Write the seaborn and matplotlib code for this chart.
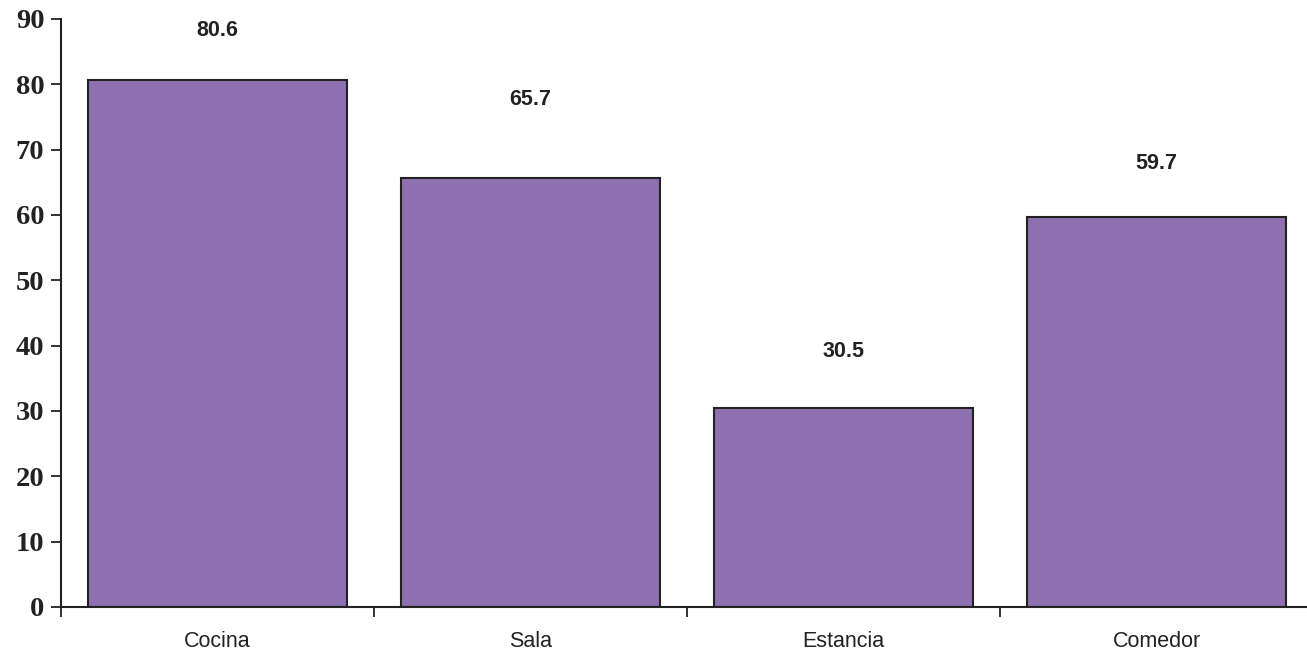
import seaborn as sns
import matplotlib.pyplot as plt
import pandas as pd

categories = ["Cocina", "Sala", "Estancia", "Comedor"]
values = [80.6, 65.7, 30.5, 59.7]
yticks = [0, 10, 20, 30, 40, 50, 60, 70, 80, 90]
# label height above bar top (data units), as placed in the original
label_offsets = [7.6, 12.0, 8.6, 8.2]

sns.set_style("white")
df = pd.DataFrame({"lugar": categories, "pct": values})

fig = plt.figure(figsize=(13.07, 6.5), dpi=100)
ax = fig.add_axes([61 / 1307, 43 / 650, 1252 / 1307, 588 / 650])

sns.barplot(data=df, x="lugar", y="pct", color="#8C70B0", saturation=1,
            edgecolor="#222222", linewidth=1.5, width=0.83, ax=ax)

for i, (v, off) in enumerate(zip(values, label_offsets)):
    ax.text(i, v + off, f"{v:.1f}", ha="center", va="center",
            fontsize=15.5, fontweight="bold", family="Liberation Sans", color="#222222")

ax.set_xlim(-0.5, 3.5)
ax.set_ylim(0, 90)
ax.set_yticks(yticks)
ax.set_yticklabels([str(t) for t in yticks], family="Liberation Serif",
                   fontweight="bold", fontsize=20.5)
ax.set_xticks(range(len(categories)))
ax.set_xticklabels(categories, family="Liberation Sans", fontsize=15.5)
ax.tick_params(axis="x", which="major", bottom=True, length=0, pad=17, colors="#222222")
ax.set_xticks([-0.5, 0.5, 1.5, 2.5, 3.5], minor=True)
ax.tick_params(axis="x", which="minor", bottom=True, length=7, width=1.3,
               direction="out", color="#222222")
ax.tick_params(axis="y", left=True, length=7, width=1.3, direction="out", pad=5,
               colors="#222222")
ax.set_xlabel("")
ax.set_ylabel("")
for s in ["top", "right"]:
    ax.spines[s].set_visible(False)
for s in ["left", "bottom"]:
    ax.spines[s].set_color("#222222")
    ax.spines[s].set_linewidth(1.5)

plt.savefig("out.png", dpi=100)
